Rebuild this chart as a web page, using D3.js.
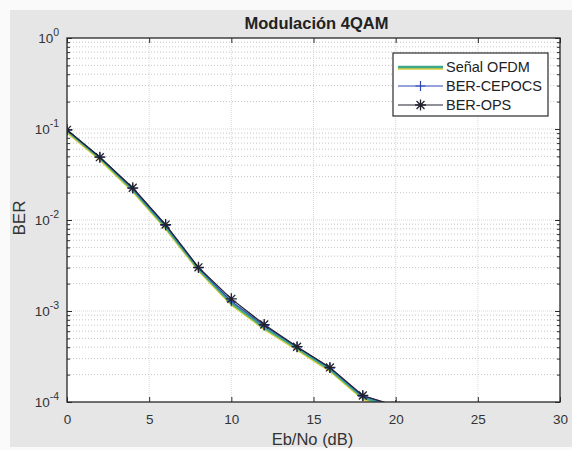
<!DOCTYPE html>
<html><head><meta charset="utf-8">
<script src="https://cdn.jsdelivr.net/npm/d3@7"></script>
<style>
html,body{margin:0;padding:0;background:#fafafa;}
svg{display:block;font-family:"Liberation Sans",Arial,sans-serif;}
</style></head>
<body>
<svg id="c" width="572" height="450"></svg>
<script>
// ---- data ----
const ebno = [0, 2, 4, 6, 8, 10, 12, 14, 16, 18, 20];
const berOFDM   = [0.096, 0.048, 0.0215, 0.0084, 0.0029, 0.00122, 0.00066, 0.00039, 0.000228, 0.000112, 0.000086];
const berCEPOCS = [0.097, 0.049, 0.0222, 0.0087, 0.00298, 0.00128, 0.00069, 0.000402, 0.000236, 0.000116, 0.00009];
const berOPS    = [0.098, 0.049, 0.0226, 0.0089, 0.00302, 0.00136, 0.00071, 0.000405, 0.00024, 0.000118, 0.000091];
const seriesNames = ["Señal OFDM", "BER-CEPOCS", "BER-OPS"];
const xTicks = [0, 5, 10, 15, 20, 25, 30];
const yExps = [0, -1, -2, -3, -4];
const title = "Modulación 4QAM";
const xLabel = "Eb/No (dB)";
const yLabel = "BER";

const svg = d3.select("#c");
const L = 67, R = 560, T = 38, B = 402;

// figure background
svg.append("rect").attr("x",10).attr("y",10).attr("width",562).attr("height",437).attr("fill","#e6e6e6");
svg.append("rect").attr("x",L).attr("y",T).attr("width",R-L).attr("height",B-T).attr("fill","#ffffff");

const x = d3.scaleLinear().domain([0,30]).range([L,R]);
const y = d3.scaleLog().domain([1e-4,1]).range([B,T]);

const g = svg.append("g");
// minor y grid
const minorVals = [];
yExps.slice(1).forEach(e => { for (let k=2;k<=9;k++) minorVals.push(k*Math.pow(10,e)); });
g.selectAll("line.mg").data(minorVals).enter().append("line")
  .attr("x1",L).attr("x2",R).attr("y1",d=>y(d)).attr("y2",d=>y(d))
  .attr("stroke","#b8b8b8").attr("stroke-width",0.8).attr("stroke-dasharray","1,2");
// major grid
g.selectAll("line.gy").data(yExps.map(e=>Math.pow(10,e))).enter().append("line")
  .attr("x1",L).attr("x2",R).attr("y1",d=>y(d)).attr("y2",d=>y(d))
  .attr("stroke","#cfcfcf").attr("stroke-width",0.8).attr("stroke-dasharray","1,1");
g.selectAll("line.gx").data(xTicks).enter().append("line")
  .attr("y1",T).attr("y2",B).attr("x1",d=>x(d)).attr("x2",d=>x(d))
  .attr("stroke","#cfcfcf").attr("stroke-width",0.8).attr("stroke-dasharray","1,1");

// axes
const axCol = "#2a2a2a";
const xb = d3.axisBottom(x).tickValues(xTicks).tickSize(-5).tickPadding(12).tickFormat(d3.format("d"));
const xt = d3.axisTop(x).tickValues(xTicks).tickSize(-5).tickFormat("");
const yl = d3.axisLeft(y).tickValues(yExps.map(e=>Math.pow(10,e))).tickSize(-5).tickFormat("");
const yr = d3.axisRight(y).tickValues(yExps.map(e=>Math.pow(10,e))).tickSize(-5).tickFormat("");
const ylm = d3.axisLeft(y).tickValues(minorVals).tickSize(-3).tickFormat("");
const yrm = d3.axisRight(y).tickValues(minorVals).tickSize(-3).tickFormat("");
function style(sel){ sel.select(".domain").remove(); sel.selectAll("line").attr("stroke",axCol).attr("stroke-width",1);
  sel.selectAll("text").attr("fill","#333").attr("font-size",13.5).attr("font-family","Liberation Sans, Arial, sans-serif"); }
svg.append("g").attr("transform",`translate(0,${B})`).call(xb).call(style);
svg.append("g").attr("transform",`translate(0,${T})`).call(xt).call(style);
svg.append("g").attr("transform",`translate(${L},0)`).call(yl).call(style);
svg.append("g").attr("transform",`translate(${R},0)`).call(yr).call(style);
svg.append("g").attr("transform",`translate(${L},0)`).call(ylm).call(style);
svg.append("g").attr("transform",`translate(${R},0)`).call(yrm).call(style);

// y tick labels 10^e
const yLab = svg.append("g");
yExps.forEach(e => {
  const t = yLab.append("text").attr("x",L-8).attr("y",y(Math.pow(10,e))+5).attr("text-anchor","end")
    .attr("font-size",13.5).attr("fill","#333");
  t.append("tspan").text("10");
  t.append("tspan").attr("dy",-7).attr("font-size",10.5).text(e);
});

// clip
svg.append("clipPath").attr("id","clp").append("rect").attr("x",L).attr("y",T).attr("width",R-L).attr("height",B-T);
const plot = svg.append("g").attr("clip-path","url(#clp)");
const line = vals => d3.line().x((d,i)=>x(ebno[i])).y(d=>y(d))(vals);

plot.append("path").attr("d",line(berOFDM)).attr("fill","none").attr("stroke","#d8cf3c").attr("stroke-width",2.2).attr("transform","translate(0,1.6)");
plot.append("path").attr("d",line(berOFDM)).attr("fill","none").attr("stroke","#3fa88c").attr("stroke-width",2.4);
plot.append("path").attr("d",line(berCEPOCS)).attr("fill","none").attr("stroke","#2f48b8").attr("stroke-width",1.2);
plot.append("path").attr("d",line(berOPS)).attr("fill","none").attr("stroke","#22222e").attr("stroke-width",1.2);

function plus(sel, cx, cy, s, col){ sel.append("path").attr("d",`M${cx-s},${cy}H${cx+s}M${cx},${cy-s}V${cy+s}`).attr("stroke",col).attr("stroke-width",1.2).attr("fill","none"); }
function star(sel, cx, cy, s, col){
  const d = s*0.72;
  sel.append("path").attr("d",`M${cx-s},${cy}H${cx+s}M${cx},${cy-s}V${cy+s}M${cx-d},${cy-d}L${cx+d},${cy+d}M${cx-d},${cy+d}L${cx+d},${cy-d}`)
    .attr("stroke",col).attr("stroke-width",1.3).attr("fill","none");
}
berCEPOCS.forEach((v,i)=>plus(plot, x(ebno[i]), y(v), 5, "#2f48b8"));
berOPS.forEach((v,i)=>star(plot, x(ebno[i]), y(v), 5.5, "#22222e"));

// frame
svg.append("rect").attr("x",L).attr("y",T).attr("width",R-L).attr("height",B-T).attr("fill","none").attr("stroke",axCol).attr("stroke-width",1.3);

// title and labels
svg.append("text").attr("x",(L+R)/2+3).attr("y",29).attr("text-anchor","middle").attr("font-weight","bold").attr("font-size",16.5).attr("fill","#222").text(title);
svg.append("text").attr("x",(L+R)/2-1).attr("y",445).attr("text-anchor","middle").attr("font-size",16.5).attr("fill","#333").text(xLabel);
svg.append("text").attr("transform",`translate(25,${(T+B)/2-2}) rotate(-90)`).attr("text-anchor","middle").attr("font-size",17).attr("fill","#333").text(yLabel);

// legend
const lg = svg.append("g").attr("transform","translate(393,53)");
lg.append("rect").attr("width",155).attr("height",63).attr("fill","#fff").attr("stroke","#2a2a2a").attr("stroke-width",1.2);
const ly = [14, 33, 52];
lg.append("line").attr("x1",5).attr("x2",50).attr("y1",ly[0]+1.6).attr("y2",ly[0]+1.6).attr("stroke","#d8cf3c").attr("stroke-width",2.2);
lg.append("line").attr("x1",5).attr("x2",50).attr("y1",ly[0]).attr("y2",ly[0]).attr("stroke","#3fa88c").attr("stroke-width",2.4);
lg.append("line").attr("x1",5).attr("x2",50).attr("y1",ly[1]).attr("y2",ly[1]).attr("stroke","#2f48b8").attr("stroke-width",1.2);
plus(lg, 27.5, ly[1], 5, "#2f48b8");
lg.append("line").attr("x1",5).attr("x2",50).attr("y1",ly[2]).attr("y2",ly[2]).attr("stroke","#22222e").attr("stroke-width",1.2);
star(lg, 27.5, ly[2], 5.5, "#22222e");
seriesNames.forEach((n,i)=>lg.append("text").attr("x",53).attr("y",ly[i]+5).attr("font-size",14.5).attr("fill","#222").text(n));
</script>
</body></html>
